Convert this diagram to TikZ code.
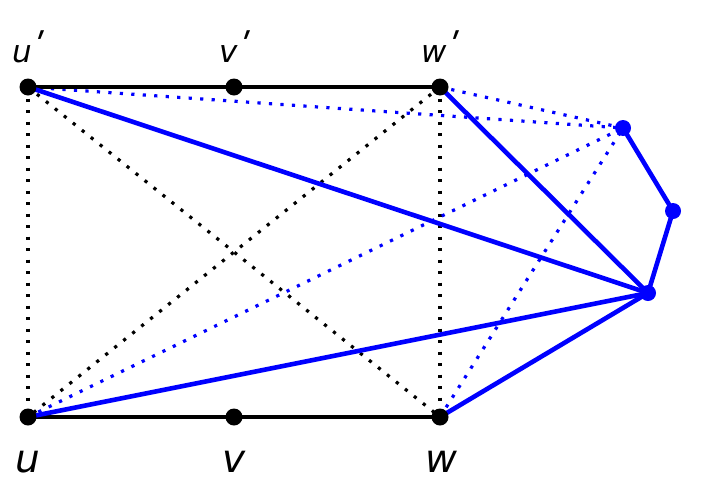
\documentclass[tikz,border=0pt]{standalone}
\usepackage{fontspec}
\setmainfont{DejaVu Sans}
\newcommand{\myprime}{\kern0.5pt\raisebox{3pt}{\fontsize{36}{36}\selectfont ʹ}}
\begin{document}
\begin{tikzpicture}[x=1pt,y=-1pt,
  bnode/.style={circle,fill=black,inner sep=0pt,minimum size=17pt},
  qnode/.style={circle,fill=blue,inner sep=0pt,minimum size=16pt},
  solidk/.style={line width=4.3pt,black},
  solidb/.style={line width=4.6pt,blue},
  dotk/.style={line width=3.2pt,black,dash pattern=on 3.2pt off 8.3pt},
  dotb/.style={line width=3.2pt,blue,dash pattern=on 3.2pt off 8.3pt},
  toplab/.style={anchor=base west,inner sep=0pt,font=\fontsize{31}{32}\selectfont\itshape},
  botlab/.style={anchor=base,inner sep=0pt,font=\fontsize{39}{42}\selectfont\itshape}]
\useasboundingbox (0,0) rectangle (708,501);
\coordinate (up) at (28,87);
\coordinate (vp) at (234,87);
\coordinate (wp) at (440,87);
\coordinate (u) at (28,417);
\coordinate (v) at (234,417);
\coordinate (w) at (440,417);
\coordinate (a) at (623,128);
\coordinate (b) at (673,211);
\coordinate (c) at (648,293);
% dotted edges
\draw[dotk] (up) -- (u);
\draw[dotk] (wp) -- (w);
\draw[dotk] (up) -- (w);
\draw[dotk] (wp) -- (u);
\draw[dotb] (up) -- (a);
\draw[dotb] (wp) -- (a);
\draw[dotb] (u) -- (a);
\draw[dotb] (w) -- (a);
% solid edges
\draw[solidk] (up) -- (vp) -- (wp);
\draw[solidk] (u) -- (v) -- (w);
\draw[solidb] (a) -- (b) -- (c);
\draw[solidb] (c) -- (up);
\draw[solidb] (c) -- (wp);
\draw[solidb] (c) -- (u);
\draw[solidb] (c) -- (w);
% nodes
\node[bnode] (nup) at (up) {};
\node[bnode] (nvp) at (vp) {};
\node[bnode] (nwp) at (wp) {};
\node[bnode] (nu) at (u) {};
\node[bnode] (nv) at (v) {};
\node[bnode] (nw) at (w) {};
\node[qnode] (na) at (a) {};
\node[qnode] (nb) at (b) {};
\node[qnode] (nc) at (c) {};
% labels
\node[toplab] (lup) at (12,62) {u\myprime};
\node[toplab] (lvp) at (219,62) {v\myprime};
\node[toplab] (lwp) at (421,62) {w\myprime};
\node[botlab] (lu) at (28,472) {u};
\node[botlab] (lv) at (234,472) {v};
\node[botlab] (lw) at (441,472) {w};
\end{tikzpicture}
\end{document}
